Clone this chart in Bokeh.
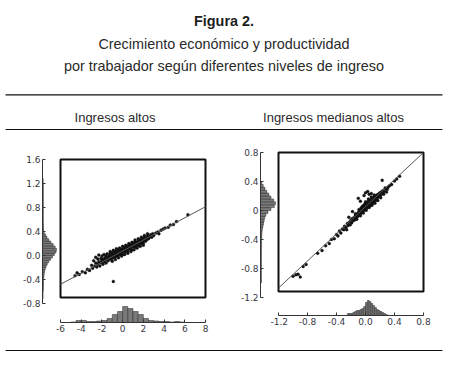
from bokeh.plotting import figure
from bokeh.models import Range1d, FixedTicker, PrintfTickFormatter, Slope, Spacer
from bokeh.layouts import row, column
from bokeh.embed import file_html
from bokeh.resources import INLINE
from bokeh.core.properties import value

# ---------------- data ----------------
title = "Figura 2."
subtitle1 = "Crecimiento económico y productividad"
subtitle2 = "por trabajador según diferentes niveles de ingreso"
panel_titles = ["Ingresos altos", "Ingresos medianos altos"]

# Panel 1: Ingresos altos
hi_x = [-4.6, -4.4, -4.2, -3.9, -3.6, -3.4, -3.2, -3.0, -2.9, -2.8, -2.7, -2.6, -2.6, -2.5, -2.4, -2.4,
        -2.3, -2.3, -2.2, -2.1, -2.1, -2.0, -2.0, -1.9, -1.9, -1.8, -1.8, -1.7, -1.7, -1.6, -1.6, -1.5,
        -1.5, -1.4, -1.4, -1.3, -1.3, -1.2, -1.2, -1.1, -1.1, -1.0, -1.0, -0.9, -0.9, -0.8, -0.8, -0.7,
        -0.7, -0.6, -0.6, -0.5, -0.5, -0.4, -0.4, -0.3, -0.3, -0.2, -0.2, -0.1, -0.1, 0.0, 0.0, 0.0,
        0.1, 0.1, 0.2, 0.2, 0.3, 0.3, 0.4, 0.4, 0.5, 0.5, 0.6, 0.6, 0.7, 0.7, 0.8, 0.8, 0.9, 0.9,
        1.0, 1.0, 1.1, 1.1, 1.2, 1.2, 1.3, 1.3, 1.4, 1.4, 1.5, 1.5, 1.6, 1.6, 1.7, 1.7, 1.8, 1.8,
        1.9, 1.9, 2.0, 2.0, 2.1, 2.1, 2.2, 2.2, 2.3, 2.4, 2.4, 2.5, 2.6, 2.7, 2.8, 2.9, 3.0, 3.2,
        3.4, 3.5, 3.7, 3.9, 4.1, 4.4, 4.6, 4.9, 5.2, 6.3, -0.9,
        -1.2, -0.9, -0.6, -0.3, 0.0, 0.3, 0.6, 0.9, 1.2, 1.5, 1.8, 2.1, 2.4,
        -1.0, -0.7, -0.4, -0.1, 0.2, 0.5, 0.8, 1.1, 1.4, 1.7, 2.0,
        -0.05, 0.25, 0.55, 0.85, 1.15, 1.45, 1.75, 2.05, 0.45, 0.75, 1.05, 1.35, 1.65, 1.95, 2.25, 2.55]
hi_y = [-0.42, -0.37, -0.40, -0.35, -0.37, -0.31, -0.33, -0.24, -0.29, -0.16, -0.25, -0.10, -0.20, -0.27, -0.13, -0.22,
        -0.06, -0.18, -0.25, -0.12, -0.19, -0.08, -0.16, -0.22, -0.13, -0.05, -0.18, -0.11, -0.15, -0.08, -0.20, -0.13,
        -0.04, -0.10, -0.16, -0.07, -0.12, -0.03, -0.10, -0.14, -0.06, -0.09, -0.02, -0.11, -0.05, -0.07, 0.00, -0.09,
        -0.03, -0.06, 0.01, -0.08, -0.02, -0.04, 0.03, -0.06, 0.00, -0.02, 0.04, -0.04, 0.02, 0.00, 0.05, -0.05,
        0.02, 0.07, -0.01, 0.04, 0.06, 0.01, 0.03, 0.09, 0.05, 0.00, 0.07, 0.11, 0.04, 0.09, 0.06, 0.12, 0.09, 0.03,
        0.11, 0.15, 0.08, 0.13, 0.10, 0.17, 0.13, 0.07, 0.15, 0.11, 0.18, 0.13, 0.15, 0.10, 0.17, 0.21, 0.14, 0.19,
        0.17, 0.22, 0.19, 0.14, 0.21, 0.25, 0.18, 0.23, 0.20, 0.24, 0.27, 0.22, 0.26, 0.29, 0.25, 0.31, 0.28, 0.32,
        0.34, 0.31, 0.37, 0.39, 0.41, 0.42, 0.46, 0.47, 0.52, 0.64, -0.52,
        0.00, 0.02, 0.05, 0.06, 0.09, 0.11, 0.14, 0.16, 0.20, 0.22, 0.25, 0.28, 0.31,
        -0.17, -0.14, -0.11, -0.08, -0.05, -0.03, 0.00, 0.03, 0.06, 0.09, 0.11,
        0.02, 0.05, 0.08, 0.10, 0.13, 0.16, 0.18, 0.21, 0.06, 0.08, 0.12, 0.14, 0.17, 0.20, 0.22, 0.25]
hi_fit_slope = 0.0964
hi_fit_intercept = 0.008

hi_yhist_centers = [-0.70, -0.66, -0.62, -0.58, -0.54, -0.50, -0.46, -0.42, -0.38, -0.34, -0.30, -0.26, -0.22,
                    -0.18, -0.14, -0.10, -0.06, -0.02, 0.02, 0.06, 0.10, 0.14, 0.18, 0.22, 0.26, 0.30,
                    0.34, 0.38, 0.42, 0.46, 0.50, 0.54, 0.58, 0.62, 0.66, 0.70, 0.74, 0.78, 0.82, 0.86,
                    0.90, 0.94, 0.98, 1.02, 1.06, 1.10, 1.14, 1.18, 1.22, 1.26]
hi_yhist_counts = [4, 4, 4, 6, 6, 7, 7, 7, 8, 10, 12, 15, 20,
                   26, 34, 45, 58, 72, 85, 96, 100, 90, 76, 60, 45, 32,
                   22, 12, 8, 7, 7, 6, 6, 6, 6, 6, 6, 6, 6, 6,
                   6, 6, 6, 6, 6, 6, 6, 6, 5, 5]
hi_xhist_centers = [-4.75, -4.25, -3.75, -3.25, -2.75, -2.25, -1.75, -1.25, -0.75, -0.25, 0.25, 0.75,
                    1.25, 1.75, 2.25, 2.75, 3.25, 3.75, 4.25, 4.75, 5.25, 5.75]
hi_xhist_counts = [0.5, 2, 2, 1, 1, 1.5, 2, 4, 8, 11, 16, 14, 11, 8, 4, 2, 1.5, 1, 1, 0.5, 1, 0.5]

# Panel 2: Ingresos medianos altos
mh_x = [-1.00, -0.96, -0.93, -0.90, -0.86, -0.82, -0.66, -0.60, -0.55, -0.50, -0.47, -0.43, -0.40, -0.38,
        -0.36, -0.34, -0.32, -0.30, -0.29, -0.27, -0.26, -0.25, -0.24, -0.22, -0.21, -0.20, -0.19, -0.18,
        -0.17, -0.16, -0.15, -0.14, -0.13, -0.12, -0.11, -0.10, -0.10, -0.09, -0.08, -0.07, -0.06, -0.06,
        -0.05, -0.04, -0.04, -0.03, -0.02, -0.02, -0.01, 0.00, 0.00, 0.01, 0.02, 0.02, 0.03, 0.04, 0.04,
        0.05, 0.06, 0.06, 0.07, 0.08, 0.08, 0.09, 0.10, 0.10, 0.11, 0.12, 0.12, 0.13, 0.14, 0.14, 0.15,
        0.16, 0.16, 0.17, 0.18, 0.19, 0.20, 0.21, 0.22, 0.23, 0.24, 0.26, 0.28, 0.30, 0.33, 0.36, 0.40,
        0.43, 0.47, -0.23, -0.10, -0.07, 0.03, 0.00, 0.23, -0.18, -0.02, 0.05, 0.08,
        -0.14, -0.12, -0.09, -0.07, -0.05, -0.03, -0.01, 0.01, 0.03, 0.05, 0.07, 0.09, 0.11, 0.13, 0.15,
        0.17, 0.19, 0.21, 0.23, 0.25, 0.27, 0.29, 0.31, 0.00, 0.04, 0.08, 0.12, 0.06, 0.10, 0.14, 0.18,
        -0.02, 0.02, 0.16, 0.20]
mh_y = [-0.98, -0.96, -0.95, -0.99, -0.84, -0.81, -0.65, -0.61, -0.54, -0.51, -0.45, -0.44, -0.38, -0.40,
        -0.33, -0.36, -0.30, -0.31, -0.26, -0.28, -0.31, -0.22, -0.25, -0.20, -0.24, -0.17, -0.21, -0.15,
        -0.18, -0.14, -0.17, -0.11, -0.14, -0.09, -0.12, -0.07, -0.11, -0.05, -0.09, -0.04, -0.07, 0.00,
        -0.03, 0.03, -0.06, 0.00, 0.04, -0.03, 0.02, 0.05, -0.01, 0.03, 0.07, 0.00, 0.05, 0.09, 0.02,
        0.06, 0.10, 0.03, 0.08, 0.12, 0.05, 0.10, 0.14, 0.07, 0.11, 0.15, 0.09, 0.13, 0.17, 0.11, 0.15,
        0.19, 0.13, 0.16, 0.20, 0.17, 0.22, 0.19, 0.23, 0.21, 0.25, 0.24, 0.28, 0.27, 0.32, 0.34, 0.39,
        0.42, 0.46, -0.13, 0.14, 0.10, 0.24, 0.22, 0.40, -0.05, 0.18, 0.20, 0.21,
        -0.08, -0.16, -0.02, -0.11, 0.01, -0.07, 0.06, -0.03, 0.09, 0.01, 0.12, 0.04, 0.15, 0.07, 0.18,
        0.11, 0.21, 0.15, 0.24, 0.20, 0.29, 0.23, 0.30, 0.09, 0.13, 0.16, 0.19, 0.07, 0.10, 0.14, 0.17,
        0.01, 0.04, 0.16, 0.19]
mh_fit_slope = 0.975
mh_fit_intercept = 0.02

mh_yhist_centers = [-0.98, -0.94, -0.90, -0.86, -0.82, -0.78, -0.74, -0.70, -0.66, -0.62, -0.58, -0.54,
                    -0.50, -0.46, -0.42, -0.38, -0.34, -0.30, -0.26, -0.22, -0.18, -0.14, -0.10, -0.06,
                    -0.02, 0.02, 0.06, 0.10, 0.14, 0.18, 0.22, 0.26, 0.30, 0.34, 0.38]
mh_yhist_counts = [6, 6, 6, 6, 6, 6, 6, 6, 6, 6, 6, 6,
                   7, 7, 7, 8, 9, 10, 12, 16, 20, 24, 28, 36,
                   50, 70, 92, 100, 88, 70, 56, 42, 30, 18, 8]
mh_xhist_centers = [-0.2375, -0.2125, -0.1875, -0.1625, -0.1375, -0.1125, -0.0875, -0.0625, -0.0375, -0.0125,
                    0.0125, 0.0375, 0.0625, 0.0875, 0.1125, 0.1375, 0.1625, 0.1875, 0.2125, 0.2375, 0.2625, 0.2875]
mh_xhist_counts = [2, 2, 2, 3, 4, 5, 5, 6, 7, 9, 13, 15, 14, 12, 10, 8, 6, 5, 4, 3, 2, 1]

hi_x_ticks = [-6, -4, -2, 0, 2, 4, 6, 8]
hi_y_ticks = [-0.8, -0.4, 0.0, 0.4, 0.8, 1.2, 1.6]
mh_ticks = [-1.2, -0.8, -0.4, 0.0, 0.4, 0.8]

# ---------------- styling helpers ----------------
TICK_FONT = "DejaVu Sans"
TXT_FONT = value("Liberation Sans")
BAR_FILL = "#7a7a7a"
BAR_LINE = "#2a2a2a"


def base_fig(**kw):
    p = figure(output_backend="svg", toolbar_location=None, **kw)
    p.background_fill_color = "white"
    p.border_fill_color = "white"
    return p


def style_axis(ax):
    ax.axis_line_color = "#333333"
    ax.axis_line_width = 1
    ax.major_tick_in = 3
    ax.major_tick_out = 0
    ax.minor_tick_in = 0
    ax.minor_tick_out = 0
    ax.major_tick_line_color = "#333333"
    ax.major_label_text_font = TICK_FONT
    ax.major_label_text_font_size = "9px"
    ax.major_label_text_color = "#383845"
    ax.major_label_standoff = 2


def yhist(width, mb_left, mb_top, frame_h, mb_bottom, yr, centers, counts, bw, xmax, ticks, overrides=None):
    p = base_fig(width=width, height=mb_top + frame_h + mb_bottom,
                 x_range=Range1d(0, xmax), y_range=Range1d(*yr),
                 x_axis_location=None, y_axis_location="left",
                 min_border_left=mb_left, min_border_right=0,
                 min_border_top=mb_top, min_border_bottom=mb_bottom)
    p.outline_line_color = None
    p.grid.visible = False
    p.hbar(y=centers, height=bw, left=0, right=counts,
           fill_color=BAR_FILL, line_color=BAR_LINE, line_width=0.5)
    ax = p.yaxis[0]
    ax.ticker = FixedTicker(ticks=ticks)
    ax.formatter = PrintfTickFormatter(format="%.1f")
    if overrides:
        ax.major_label_overrides = overrides
    style_axis(ax)
    return p


def scatter_fig(width, mb_top, frame_h, mb_right, xr, yr, xs, ys, slope, intercept):
    p = base_fig(width=width, height=mb_top + frame_h + 2,
                 x_range=Range1d(*xr), y_range=Range1d(*yr),
                 x_axis_location=None, y_axis_location=None,
                 min_border_left=2, min_border_right=mb_right,
                 min_border_top=mb_top, min_border_bottom=2)
    p.outline_line_color = "#111111"
    p.outline_line_width = 2
    p.grid.visible = False
    p.add_layout(Slope(gradient=slope, y_intercept=intercept,
                       line_color="#555555", line_width=1))
    p.scatter(x=xs, y=ys, marker="circle", size=3.0,
              fill_color="#111111", line_color="#111111", line_width=0.3)
    return p


def xhist(width, mb_left, mb_right, frame_h, mb_bottom, xr, centers, counts, bw, ymax, ticks, fmt):
    p = base_fig(width=width, height=frame_h + mb_bottom,
                 x_range=Range1d(*xr), y_range=Range1d(0, ymax),
                 x_axis_location="below", y_axis_location=None,
                 min_border_left=mb_left, min_border_right=mb_right,
                 min_border_top=0, min_border_bottom=mb_bottom)
    p.outline_line_color = None
    p.grid.visible = False
    p.border_fill_alpha = 0
    p.vbar(x=centers, width=bw, bottom=0, top=counts,
           fill_color=BAR_FILL, line_color=BAR_LINE, line_width=0.5)
    ax = p.xaxis[0]
    ax.ticker = FixedTicker(ticks=ticks)
    ax.formatter = PrintfTickFormatter(format=fmt)
    style_axis(ax)
    return p


# ---------------- header ----------------
hdr = base_fig(width=451, height=130, x_range=Range1d(0, 451), y_range=Range1d(130, 0),
               x_axis_location=None, y_axis_location=None,
               min_border_left=0, min_border_right=0, min_border_top=0, min_border_bottom=0)
hdr.outline_line_color = None
hdr.grid.visible = False
hdr.text(x=[223.5], y=[20], text=[title], text_align="center", text_baseline="alphabetic",
         text_font=TXT_FONT, text_font_size="14.4px", text_font_style="bold", text_color="#1e1e1e")
hdr.text(x=[223.5, 223.5], y=[43.3, 65], text=[subtitle1, subtitle2], text_align="center",
         text_baseline="alphabetic", text_font=TXT_FONT, text_font_size="14.4px", text_color="#2a2a2a")
hdr.text(x=[114.5, 333], y=[117.3, 117.3], text=panel_titles, text_align="center",
         text_baseline="alphabetic", text_font=TXT_FONT, text_font_size="13px", text_color="#2a2a2a")
hdr.segment(x0=[5, 5], y0=[94.3, 129.2], x1=[442, 442], y1=[94.3, 129.2],
            line_color="#111111", line_width=1.2)

# ---------------- panel 1 ----------------
yh1 = yhist(58, 42, 29, 144, 8, (-0.8, 1.6), hi_yhist_centers, hi_yhist_counts, 0.04, 114, hi_y_ticks)
sc1 = scatter_fig(172, 29, 144, 25, (-6, 8), (-0.8, 1.6), hi_x, hi_y, hi_fit_slope, hi_fit_intercept)
xh1 = xhist(178, 8, 25, 17, 18, (-6, 8), hi_xhist_centers, hi_xhist_counts, 0.5, 17, hi_x_ticks, "%d")
panel1 = column(row(yh1, sc1), row(Spacer(width=52, height=35), xh1, margin=(-6, 0, 0, 0)))

# ---------------- panel 2 ----------------
yh2 = yhist(46, 30, 22, 145, 8, (-1.2, 0.8), mh_yhist_centers, mh_yhist_counts, 0.04, 107, mh_ticks,
            overrides={0: "0"})
sc2 = scatter_fig(175, 22, 145, 28, (-1.2, 0.8), (-1.2, 0.8), mh_x, mh_y, mh_fit_slope, mh_fit_intercept)
xh2 = xhist(181, 8, 28, 16, 25, (-1.2, 0.8), mh_xhist_centers, mh_xhist_counts, 0.025, 16, mh_ticks, "%.1f")
panel2 = column(row(yh2, sc2), row(Spacer(width=40, height=41), xh2, margin=(-6, 0, 0, 0)))

# ---------------- footer ----------------
ftr = base_fig(width=451, height=14, x_range=Range1d(0, 451), y_range=Range1d(14, 0),
               x_axis_location=None, y_axis_location=None,
               min_border_left=0, min_border_right=0, min_border_top=0, min_border_bottom=0)
ftr.outline_line_color = None
ftr.grid.visible = False
ftr.segment(x0=[5], y0=[10], x1=[442], y1=[10], line_color="#111111", line_width=1.2)

layout = column(hdr, row(panel1, panel2), ftr)

open("out.html", "w").write(file_html(layout, INLINE))
